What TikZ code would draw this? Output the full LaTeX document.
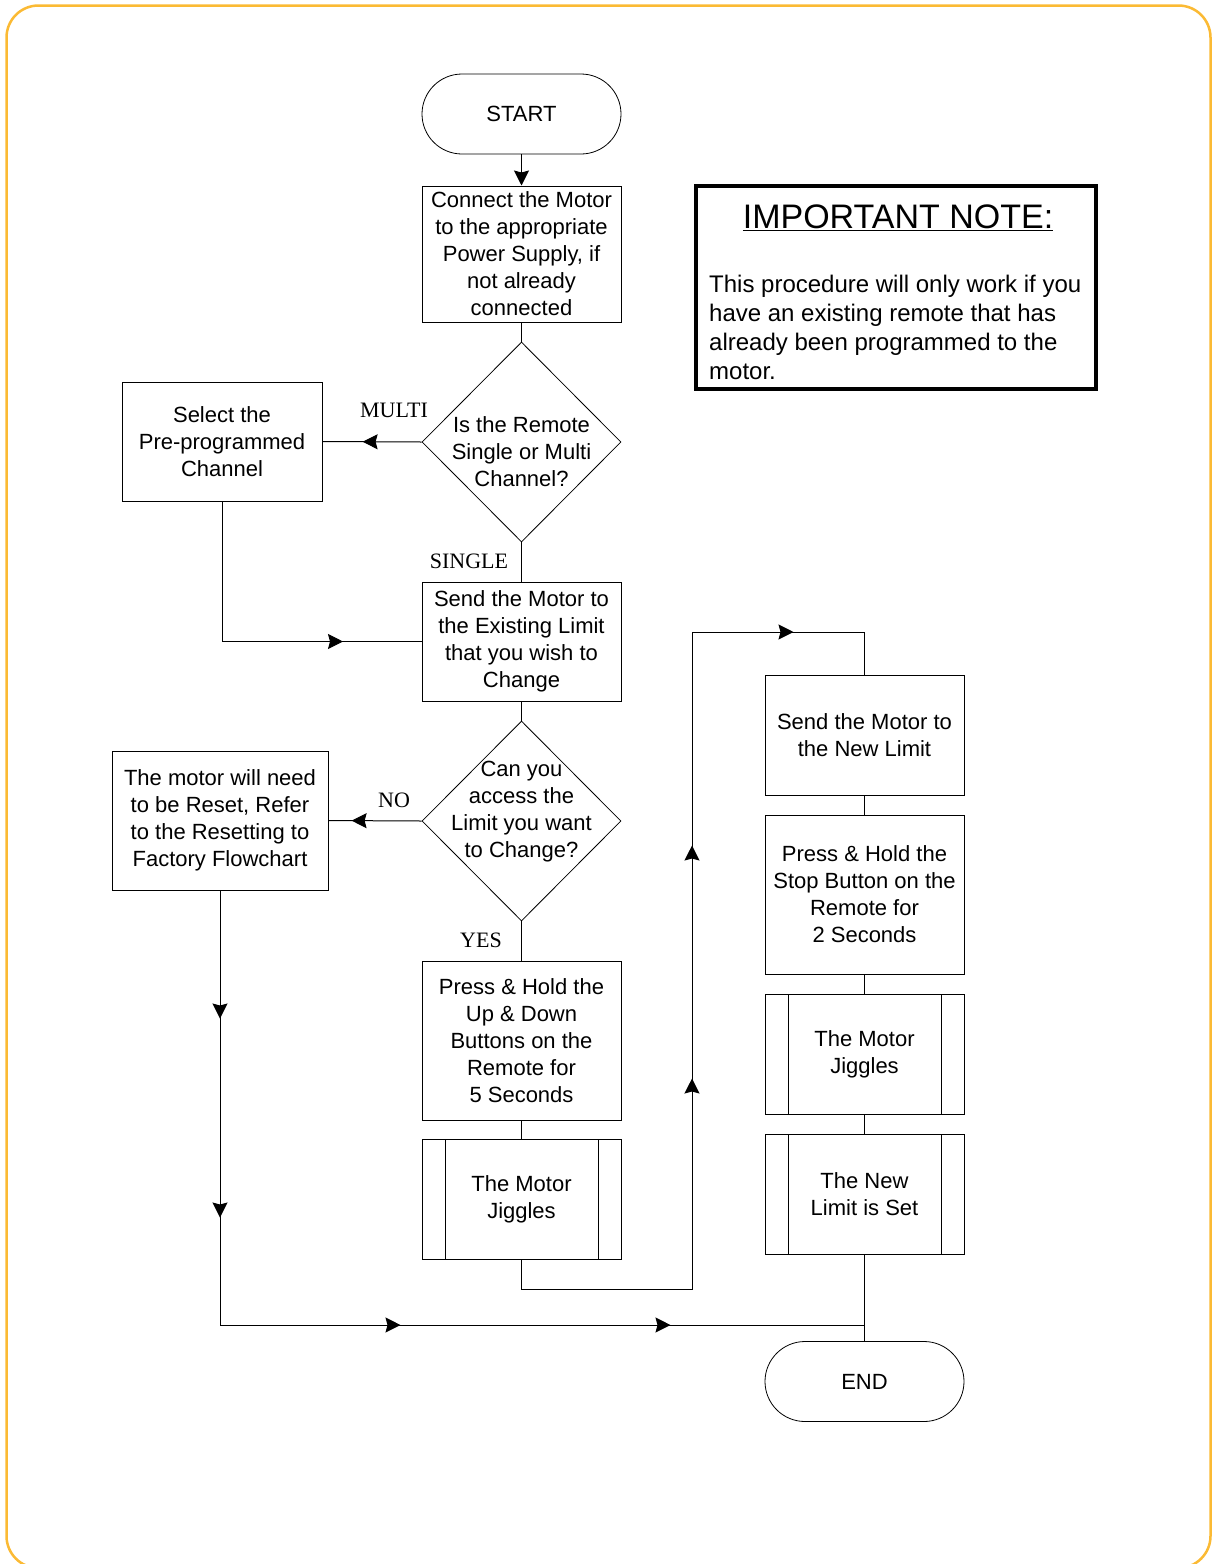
\documentclass[tikz,border=0pt]{standalone}
\usepackage{fontspec}
\setmainfont{Liberation Sans}
\newfontfamily\serifl{Liberation Serif}
\usetikzlibrary{shapes.geometric,arrows.meta,decorations.markings,calc}
\definecolor{frameorange}{RGB}{251,186,52}
\begin{document}
\begin{tikzpicture}[x=1pt,y=-1pt,
  every node/.style={font=\fontsize{22}{27}\selectfont, align=center, inner sep=0pt},
  box/.style={draw, line width=1pt, minimum width=199pt},
  term/.style={draw, line width=0.8pt, rounded corners=40pt, minimum width=199pt, minimum height=80pt},
  subproc/.style={box, minimum height=120pt,
    path picture={\draw[line width=1pt]
      ([xshift=23pt]path picture bounding box.north west) -- ([xshift=23pt]path picture bounding box.south west)
      ([xshift=-23pt]path picture bounding box.north east) -- ([xshift=-23pt]path picture bounding box.south east);}},
  dec/.style={draw, diamond, line width=0.8pt, minimum width=199pt, minimum height=200pt},
  lbl/.style={font=\serifl\fontsize{22}{26}\selectfont},
  conn/.style={line width=1pt},
  tipend/.style={-{Stealth[length=15pt,width=15pt,inset=2pt]}},
  arr at/.style={postaction={decorate, decoration={markings,
      mark=at position #1 with {\arrow{Stealth[length=15pt,width=15pt,inset=2pt]}}}}}
]
\useasboundingbox (0,0) rectangle (1212,1564);
\draw[frameorange, line width=2.5pt, rounded corners=32pt] (6.5,5.5) rectangle (1210.5,1568);

% nodes
\node[term] (start) at (521.5,114) {START};
\node[box, minimum height=136pt] (connect) at (521.5,254) {Connect the Motor\\to the appropriate\\Power Supply, if\\not already\\connected};
\node[dec] (d1) at (521.5,442) {};
\node (d1text) at (521.5,452) {Is the Remote\\Single or Multi\\Channel?};
\node[box, minimum width=200pt, minimum height=119pt] (sel) at (222,441.5) {Select the\\Pre-programmed\\Channel};
\node[box, minimum height=119pt] (send) at (521.5,641.5) {Send the Motor to\\the Existing Limit\\that you wish to\\Change};
\node[dec] (d2) at (521.5,821) {};
\node (d2text) at (521.5,811.5) {Can you\\access the\\Limit you want\\to Change?};
\node[box, minimum width=216pt, minimum height=139pt] (reset) at (220,820.5) {The motor will need\\to be Reset, Refer\\to the Resetting to\\Factory Flowchart};
\node[box, minimum height=159pt] (press) at (521.5,1040.5) {Press \& Hold the\\Up \& Down\\Buttons on the\\Remote for\\5 Seconds};
\node[subproc] (jig1) at (521.5,1199.5) {The Motor\\Jiggles};
\node[box, minimum height=120pt] (snew) at (864.5,735) {Send the Motor to\\the New Limit};
\node[box, minimum height=159pt] (pstop) at (864.5,894.5) {Press \& Hold the\\Stop Button on the\\Remote for\\2 Seconds};
\node[subproc] (jig2) at (864.5,1054) {The Motor\\Jiggles};
\node[subproc] (nlset) at (864.5,1194) {The New\\Limit is Set};
\node[term] (end) at (864.5,1381.5) {END};

% important note
\node[draw, line width=4.5pt, minimum width=400pt, minimum height=203pt] (note) at (896,287.5) {};
\node[font=\fontsize{34}{40}\selectfont] (notetitle) at (898,218) {\underline{IMPORTANT NOTE:}};
\node[font=\fontsize{24}{29}\selectfont, align=left, anchor=west] (notebody) at (709,327) {This procedure will only work if you\\have an existing remote that has\\already been programmed to the\\motor.};

% labels
\node[lbl] (lmulti) at (394,410) {MULTI};
\node[lbl] (lsingle) at (469,561) {SINGLE};
\node[lbl] (lno) at (394,800) {NO};
\node[lbl] (lyes) at (481,940) {YES};

% connectors
\draw[conn, tipend] (start) -- (connect);
\draw[conn] (connect) -- (d1);
\draw[conn, arr at=59pt] (d1.west) -- (sel.east);
\draw[conn] (d1.south) -- (send.north);
\draw[conn, arr at=261pt] (sel.south) |- (send.west);
\draw[conn] (send) -- (d2);
\draw[conn, arr at=70pt] (d2.west) -- (reset.east);
\draw[conn] (d2.south) -- (press.north);
\draw[conn] (press) -- (jig1);
\coordinate (jtop) at (692,632);
\draw[conn, arr at=410pt, arr at=643pt, arr at=958pt] (jig1.south) -- ++(0,29) -| (jtop) -| (snew.north);
\draw[conn] (snew) -- (pstop);
\draw[conn] (pstop) -- (jig2);
\draw[conn] (jig2) -- (nlset);
\draw[conn] (nlset) -- (end);
\coordinate (join) at (864.5,1325);
\draw[conn, arr at=128pt, arr at=327pt, arr at=615pt, arr at=885pt] (reset.south) |- (join);
\end{tikzpicture}
\end{document}
